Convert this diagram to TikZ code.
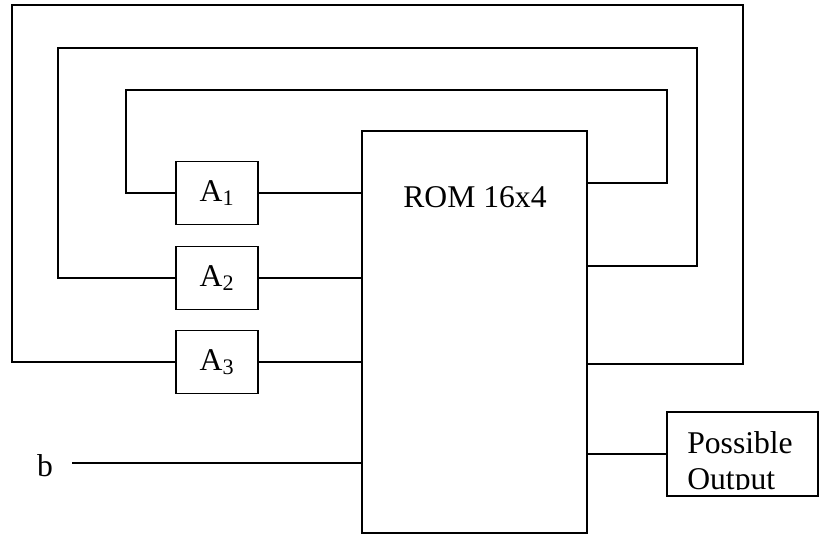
\documentclass[tikz,border=0pt]{standalone}
\usepackage{fontspec}
\setmainfont{Liberation Serif}
\usepackage{tikz}
\usetikzlibrary{positioning}

\begin{document}
\begin{tikzpicture}[
  x=0.025cm, y=-0.025cm,
  every node/.style={font=\fontsize{22.5}{27}\selectfont},
  wire/.style={line width=0.8pt},
  reg/.style={draw, line width=0.8pt, minimum width=2.05cm, minimum height=1.575cm, inner sep=0pt},
  chip/.style={draw, line width=0.8pt, minimum width=5.625cm, minimum height=10.05cm, inner sep=0pt},
  outbox/.style={draw, line width=0.8pt, minimum width=3.775cm, minimum height=2.1cm, inner sep=0pt}
]
  \useasboundingbox (0,0) rectangle (819,536);

  % ROM
  \node[chip] (rom) at (474.5,332) {};
  \node (romlbl) at (475,197) {ROM 16x4};

  % registers
  \node[reg] (a1) at (217,193) {A\textsubscript{1}};
  \node[reg] (a2) at (217,278) {A\textsubscript{2}};
  \node[reg] (a3) at (217,362) {A\textsubscript{3}};

  \draw[wire] (a1.east) -- (a1.east -| rom.west);
  \draw[wire] (a2.east) -- (a2.east -| rom.west);
  \draw[wire] (a3.east) -- (a3.east -| rom.west);

  % feedback loops
  \coordinate (o1) at (587,183);
  \coordinate (o2) at (587,266);
  \coordinate (o3) at (587,364);
  \coordinate (l1) at (126,90);
  \coordinate (r1) at (667,90);
  \coordinate (l2) at (58,48);
  \coordinate (r2) at (697,48);
  \coordinate (l3) at (12,5);
  \coordinate (r3) at (743,5);

  \draw[wire] (o1) -| (r1) -- (l1) |- (a1.west);
  \draw[wire] (o2) -| (r2) -- (l2) |- (a2.west);
  \draw[wire] (o3) -| (r3) -- (l3) |- (a3.west);

  % input b
  \node (b) at (45,466) {b};
  \coordinate (bin) at (72,463);
  \draw[wire] (bin) -- (bin -| rom.west);

  % output
  \node[outbox] (out) at (742.5,454) {};
  \begin{scope}
    \clip (667,412) rectangle (818,489);
    \node[anchor=north west, align=left, inner sep=0pt, font=\fontsize{22.5}{26}\selectfont] (outlbl) at (687,431) {Possible\\Output};
  \end{scope}
  \draw[wire] (rom.east |- out.west) -- (out.west);
\end{tikzpicture}
\end{document}
